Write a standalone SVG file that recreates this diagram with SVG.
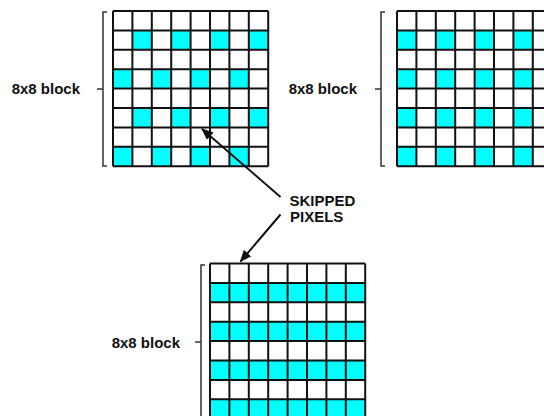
<svg xmlns="http://www.w3.org/2000/svg" width="544" height="416" viewBox="0 0 544 416">
<style>
.cell{fill:#00ffff}
.grid{fill:none;stroke:#111;stroke-width:2}
.br{fill:none;stroke:#333;stroke-width:1.5}
.lbl{font-family:"Liberation Sans",Arial,sans-serif;font-weight:bold;font-size:15px;fill:#111}
.conn{stroke:#111;stroke-width:2;fill:none}
</style>
<defs>
<path id="lines" d="M0 0V155.2M19.4 0V155.2M38.8 0V155.2M58.2 0V155.2M77.6 0V155.2M97 0V155.2M116.4 0V155.2M135.8 0V155.2M155.2 0V155.2M0 0H155.2M0 19.4H155.2M0 38.8H155.2M0 58.2H155.2M0 77.6H155.2M0 97H155.2M0 116.4H155.2M0 135.8H155.2M0 155.2H155.2"/>
<marker id="ah" markerWidth="12" markerHeight="10" refX="11" refY="5" orient="auto" markerUnits="userSpaceOnUse">
<path d="M0 0L12 5L0 10z" fill="#111"/>
</marker>
</defs>
<rect width="544" height="416" fill="#fff"/>

<g id="block1">
<text class="lbl" x="80" y="94" text-anchor="end">8x8 block</text>
<path class="br" d="M107 12H103V166H107M97 89H103"/>
<g transform="translate(113,11)">
<rect width="155.2" height="155.2" fill="#fff"/>
<rect class="cell" x="19.4" y="19.4" width="19.4" height="19.4"/>
<rect class="cell" x="58.2" y="19.4" width="19.4" height="19.4"/>
<rect class="cell" x="97" y="19.4" width="19.4" height="19.4"/>
<rect class="cell" x="135.8" y="19.4" width="19.4" height="19.4"/>
<rect class="cell" x="0" y="58.2" width="19.4" height="19.4"/>
<rect class="cell" x="38.8" y="58.2" width="19.4" height="19.4"/>
<rect class="cell" x="77.6" y="58.2" width="19.4" height="19.4"/>
<rect class="cell" x="116.4" y="58.2" width="19.4" height="19.4"/>
<rect class="cell" x="19.4" y="97" width="19.4" height="19.4"/>
<rect class="cell" x="58.2" y="97" width="19.4" height="19.4"/>
<rect class="cell" x="97" y="97" width="19.4" height="19.4"/>
<rect class="cell" x="135.8" y="97" width="19.4" height="19.4"/>
<rect class="cell" x="0" y="135.8" width="19.4" height="19.4"/>
<rect class="cell" x="38.8" y="135.8" width="19.4" height="19.4"/>
<rect class="cell" x="77.6" y="135.8" width="19.4" height="19.4"/>
<rect class="cell" x="116.4" y="135.8" width="19.4" height="19.4"/>
<use href="#lines" class="grid"/>
</g>
</g>

<g id="block2">
<text class="lbl" x="357" y="94" text-anchor="end">8x8 block</text>
<path class="br" d="M385 12H381V166H385M375 89H381"/>
<g transform="translate(397,11)">
<rect width="155.2" height="155.2" fill="#fff"/>
<rect class="cell" x="0" y="19.4" width="19.4" height="19.4"/>
<rect class="cell" x="38.8" y="19.4" width="19.4" height="19.4"/>
<rect class="cell" x="77.6" y="19.4" width="19.4" height="19.4"/>
<rect class="cell" x="116.4" y="19.4" width="19.4" height="19.4"/>
<rect class="cell" x="0" y="58.2" width="19.4" height="19.4"/>
<rect class="cell" x="38.8" y="58.2" width="19.4" height="19.4"/>
<rect class="cell" x="77.6" y="58.2" width="19.4" height="19.4"/>
<rect class="cell" x="116.4" y="58.2" width="19.4" height="19.4"/>
<rect class="cell" x="0" y="97" width="19.4" height="19.4"/>
<rect class="cell" x="38.8" y="97" width="19.4" height="19.4"/>
<rect class="cell" x="77.6" y="97" width="19.4" height="19.4"/>
<rect class="cell" x="116.4" y="97" width="19.4" height="19.4"/>
<rect class="cell" x="0" y="135.8" width="19.4" height="19.4"/>
<rect class="cell" x="38.8" y="135.8" width="19.4" height="19.4"/>
<rect class="cell" x="77.6" y="135.8" width="19.4" height="19.4"/>
<rect class="cell" x="116.4" y="135.8" width="19.4" height="19.4"/>
<use href="#lines" class="grid"/>
</g>
</g>

<g id="block3">
<text class="lbl" x="180" y="347.5" text-anchor="end">8x8 block</text>
<path class="br" d="M205 265H201V420M195 342H201"/>
<g transform="translate(210,263.5)">
<rect width="155.2" height="155.2" fill="#fff"/>
<rect class="cell" x="0" y="19.4" width="155.2" height="19.4"/>
<rect class="cell" x="0" y="58.2" width="155.2" height="19.4"/>
<rect class="cell" x="0" y="97" width="155.2" height="19.4"/>
<rect class="cell" x="0" y="135.8" width="155.2" height="19.4"/>
<use href="#lines" class="grid"/>
</g>
</g>

<g id="skipped">
<text class="lbl" x="289.5" y="206">SKIPPED</text>
<text class="lbl" x="290" y="222">PIXELS</text>
</g>

<g id="connectors">
<line class="conn" x1="280.5" y1="197" x2="202" y2="129" marker-end="url(#ah)"/>
<line class="conn" x1="280.5" y1="214.5" x2="240.5" y2="261.5" marker-end="url(#ah)"/>
</g>
</svg>
